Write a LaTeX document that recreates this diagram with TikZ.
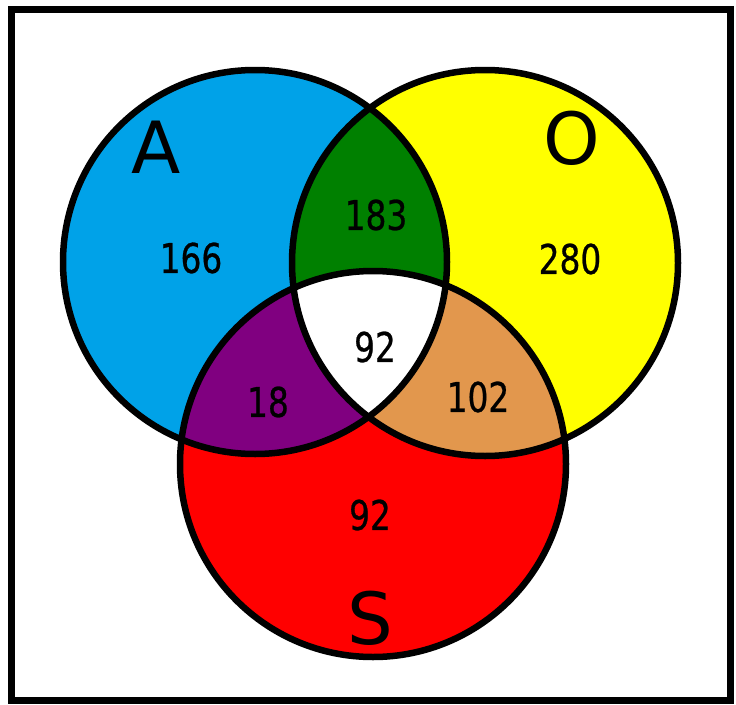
\documentclass[tikz,border=0pt]{standalone}
\usepackage{fontspec}
\setmainfont{DejaVu Sans}
\newfontfamily\digitfont[FakeStretch=0.8,FakeBold=0.6]{DejaVu Sans}
\definecolor{cblue}{RGB}{0,162,232}
\definecolor{cyellow}{RGB}{255,255,0}
\definecolor{cred}{RGB}{255,0,0}
\definecolor{cgreen}{RGB}{0,128,0}
\definecolor{cpurple}{RGB}{128,0,128}
\definecolor{ctan}{RGB}{226,151,77}
\begin{document}
\begin{tikzpicture}[x=1pt,y=-1pt,
  setlabel/.style={inner sep=0pt,font=\fontsize{72}{72}\selectfont},
  count/.style={inner sep=0pt,font=\digitfont\fontsize{41}{41}\selectfont},
  ring/.style={draw=black,line width=6.5pt}]
\useasboundingbox (0,0) rectangle (736,704);
\fill[white] (0,0) rectangle (736,704);
\def\circA{(255,262) circle[radius=192]}
\def\circO{(485,263) circle[radius=193]}
\def\circS{(373,464) circle[radius=193]}
% base fills
\fill[cblue] \circA;
\fill[cyellow] \circO;
\fill[cred] \circS;
% pairwise intersections
\begin{scope}\clip \circA; \fill[cgreen] \circO; \end{scope}
\begin{scope}\clip \circA; \fill[cpurple] \circS; \end{scope}
\begin{scope}\clip \circO; \fill[ctan] \circS; \end{scope}
\begin{scope}\clip \circA; \clip \circO; \fill[white] \circS; \end{scope}
% outlines
\draw[ring] \circA;
\draw[ring] \circO;
\draw[ring] \circS;
% frame
\draw[line width=7pt] (11.5,9.5) rectangle (730,700.5);
% labels
\node[setlabel] (la) at (156,147) {A};
\node[setlabel] (lo) at (572,138) {O};
\node[setlabel] (ls) at (370,618) {S};
\node[count] (n166) at (191,258) {166};
\node[count] (n183) at (376,215) {183};
\node[count] (n280) at (570,259) {280};
\node[count] (n92c) at (375,347) {92};
\node[count] (n18) at (268,402) {18};
\node[count] (n102) at (478,397) {102};
\node[count] (n92s) at (370,515) {92};
\end{tikzpicture}
\end{document}
